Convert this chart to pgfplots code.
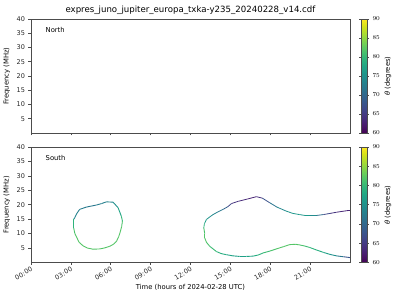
\documentclass[border=0pt]{standalone}
\usepackage{fontspec}
\setmainfont{DejaVu Sans}
\usepackage{pgfplots}
\usepackage{pgfplotstable}
\pgfplotsset{compat=1.18}

\pgfplotstableread{
x y c
3.21 14.9 74
3.29 15.5 74
3.45 17.0 73
3.66 18.4 73
4.17 19.2 72
4.60 19.6 72
4.92 19.9 72
5.30 20.4 73
5.67 21.0 73
6.17 20.9 74
6.55 19.0 76
6.80 16.0 79
6.88 14.3 81
6.82 12.5 82
6.73 10.8 82
6.60 9.0 82
6.43 7.3 82
6.20 6.3 82
5.92 5.6 82
5.50 5.0 82
5.17 4.7 82
4.67 4.6 82
4.25 5.0 82
3.91 5.8 82
3.62 7.0 82
3.46 8.5 82
3.30 10.0 82
3.21 12.0 81
3.21 14.9 78
}\loopA

\pgfplotstableread{
x y c
13.0 12.0 81
13.05 13.5 78
13.2 14.9 76
13.45 15.8 75
13.7 16.6 74
14.05 17.5 73
14.45 18.4 71
14.8 19.3 68
15.08 20.4 65
15.6 21.2 64
16.3 22.0 63
16.96 22.8 63
17.4 22.3 65
17.96 20.7 70
18.5 19.2 73
19.2 17.8 75
19.7 17.0 76
20.2 16.6 76
20.6 16.3 76
20.97 16.3 76
21.5 16.3 73
22.0 16.6 68
22.5 17.0 65
22.98 17.4 64
23.4 17.7 63
23.85 18.0 63
24.0 18.0 63
}\loopBup

\pgfplotstableread{
x y c
13.0 12.0 81
13.07 10.0 82
13.07 8.5 82
13.2 7.0 82
13.45 5.6 81
13.95 3.8 80
14.3 3.1 79
14.7 2.7 78
15.2 2.3 77
15.7 2.1 77
16.2 2.1 77
16.7 2.2 78
17.1 2.6 79
17.46 3.3 80
18.0 4.0 81
18.46 4.7 82
19.0 5.5 82
19.47 6.2 82
19.9 6.3 82
20.2 6.1 82
20.6 5.7 81
20.97 5.2 80
21.5 4.3 79
22.0 3.5 78
22.5 2.8 76
22.98 2.3 74
23.5 2.0 70
24.0 1.7 66
}\loopBlo

\pgfplotsset{
  myax/.style={
    scale only axis,
    width=319pt,
    xmin=0, xmax=24, ymin=0, ymax=40,
    xtick={0,3,...,21},
    ytick={5,10,...,40},
    tick pos=left,
    tick align=outside,
    major tick length=2.5pt,
    axis line style={draw=black!70, line width=0.6pt},
    every tick/.style={black!70, line width=0.5pt},
    tick label style={font=\fontsize{6.5}{7}\selectfont, text=black!85},
    label style={font=\fontsize{6.8}{8}\selectfont},
    /pgf/number format/assume math mode=true,
    ylabel={Frequency (MHz)},
    ylabel style={at={(axis description cs:-0.055,0.5)}, anchor=south},
    colormap name=viridis,
    point meta min=60, point meta max=90,
    colorbar,
    colorbar style={
      at={(1.0345,1)}, anchor=north west,
      width=6pt,
      ytick={60,65,...,90},
      tick align=outside,
      major tick length=2pt,
      yticklabel pos=right,
      tick label style={font=\fontsize{6.5}{7}\selectfont},
      axis line style={draw=black!70, line width=0.5pt},
    },
  }
}

\begin{document}
\begin{tikzpicture}
\useasboundingbox (0pt,0pt) rectangle (400pt,-300pt);
\begin{axis}[myax, height=114pt, at={(31pt,-19pt)}, anchor=north west,
  xticklabels={},
  title={expres\_juno\_jupiter\_europa\_txka-y235\_20240228\_v14.cdf},
  title style={font=\fontsize{8.6}{9}\selectfont, yshift=-5pt}]
\addplot[draw=none, forget plot] coordinates {(-1,-1)};
\node[anchor=west, font=\fontsize{6.8}{8}\selectfont] at (rel axis cs:0.035,0.905) {North};
\end{axis}
\begin{axis}[myax, height=115.5pt, at={(31pt,-147pt)}, anchor=north west,
  xticklabels={00:00,03:00,06:00,09:00,12:00,15:00,18:00,21:00},
  xticklabel style={rotate=30, anchor=north east, inner sep=1pt},
  xlabel={Time (hours of 2024-02-28 UTC)},
  xlabel style={yshift=1pt}]
\addplot[mesh, point meta=explicit, line width=0.9pt] table[x=x, y=y, meta=c] {\loopA};
\addplot[mesh, point meta=explicit, line width=0.8pt] table[x=x, y=y, meta=c] {\loopBup};
\addplot[mesh, point meta=explicit, line width=0.9pt] table[x=x, y=y, meta=c] {\loopBlo};
\node[anchor=west, font=\fontsize{6.8}{8}\selectfont] at (rel axis cs:0.035,0.905) {South};
\end{axis}
\node[rotate=90, font=\fontsize{6.8}{8}\selectfont] at (388pt,-76pt) {\textit{θ} (degrees)};
\node[rotate=90, font=\fontsize{6.8}{8}\selectfont] at (388pt,-205pt) {\textit{θ} (degrees)};
\end{tikzpicture}
\end{document}
